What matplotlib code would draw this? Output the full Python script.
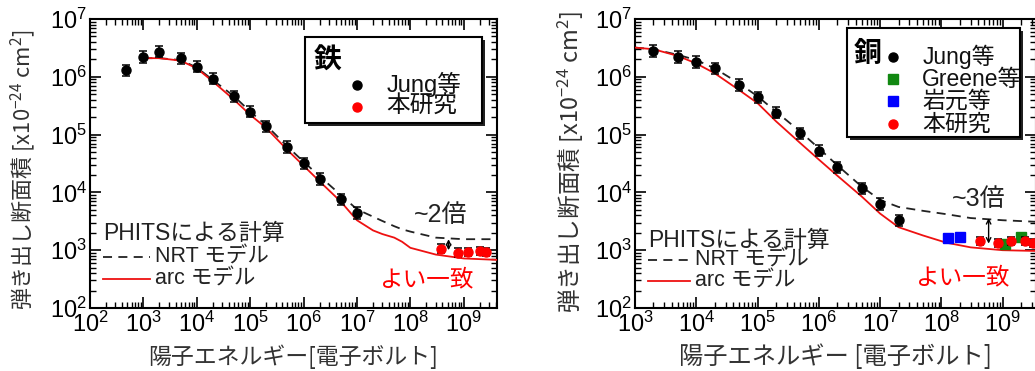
import numpy as np
import matplotlib
matplotlib.use('Agg')
import matplotlib.pyplot as plt
from matplotlib.patches import Rectangle
from matplotlib.ticker import LogLocator, FuncFormatter, NullFormatter

plt.rcParams['font.family'] = ['Liberation Sans', 'Noto Sans CJK JP']
plt.rcParams['mathtext.default'] = 'regular'

# ---------------- data : iron (鉄) ----------------
fe_curve_E = [1e3, 2e3, 5e3, 1e4, 2e4, 5e4, 1e5, 2e5, 5e5, 1e6, 2e6, 5e6, 1e7,
              2e7, 3e7, 5e7, 7e7, 1e8, 3e8, 1e9, 4.2e9]
fe_arc = [2.1e6, 2.1e6, 1.9e6, 1.4e6, 8.3e5, 4.0e5, 2.2e5, 1.3e5, 5.4e4, 2.9e4,
          1.55e4, 6.9e3, 3.3e3, 2.2e3, 1.9e3, 1.65e3, 1.4e3, 1.1e3, 8.4e2, 7.2e2, 6.8e2]
fe_nrt = [2.1e6, 2.1e6, 1.95e6, 1.45e6, 8.8e5, 4.6e5, 2.5e5, 1.45e5, 6.2e4, 3.4e4,
          1.9e4, 9.0e3, 5.1e3, 3.8e3, 3.2e3, 2.6e3, 2.3e3, 2.1e3, 1.65e3, 1.55e3, 1.55e3]
fe_jung_E = [4.8e2, 1e3, 2e3, 5e3, 1e4, 2e4, 5e4, 1e5, 2e5, 5e5, 1e6, 2e6, 5e6, 1e7]
fe_jung_s = [1.3e6, 2.2e6, 2.7e6, 2.1e6, 1.5e6, 9.2e5, 4.6e5, 2.5e5, 1.4e5, 6.1e4,
             3.2e4, 1.7e4, 7.6e3, 4.4e3]
fe_this_E = [3.8e8, 7.8e8, 1.2e9, 2.0e9, 2.6e9]
fe_this_s = [1.07e3, 9.1e2, 9.3e2, 9.7e2, 9.3e2]
fe_arrow_E = 5.2e8
fe_arrow_s = (1.55e3, 1.0e3)

# ---------------- data : copper (銅) ----------------
cu_curve_E = [1e3, 2e3, 5e3, 1e4, 2e4, 5e4, 1e5, 2e5, 5e5, 1e6, 2e6, 5e6, 1e7,
              2e7, 5e7, 1.2e8, 3e8, 1e9, 3.5e9]
cu_arc = [3.2e6, 3.0e6, 2.3e6, 1.7e6, 1.15e6, 5.9e5, 3.5e5, 1.7e5, 7.1e4, 3.7e4,
          1.95e4, 8.5e3, 4.3e3, 2.5e3, 1.8e3, 1.35e3, 1.12e3, 1.0e3, 9.7e2]
cu_nrt = [3.2e6, 3.0e6, 2.4e6, 1.95e6, 1.4e6, 7.7e5, 4.6e5, 2.5e5, 1.12e5, 5.8e4,
          2.95e4, 1.26e4, 7.4e3, 5.6e3, 4.8e3, 4.2e3, 3.6e3, 3.3e3, 3.1e3]
cu_jung_E = [2e3, 5e3, 1e4, 2e4, 5e4, 1e5, 2e5, 5e5, 1e6, 2e6, 5e6, 1e7, 2e7]
cu_jung_s = [2.8e6, 2.2e6, 1.8e6, 1.4e6, 7.2e5, 4.4e5, 2.4e5, 1.05e5, 5.3e4, 2.7e4,
             1.17e4, 6.3e3, 3.3e3]
cu_greene_E = [1.1e9, 2.0e9]
cu_greene_s = [1.3e3, 1.7e3]
cu_iwamoto_E = [1.3e8, 2.0e8]
cu_iwamoto_s = [1.6e3, 1.7e3]
cu_this_E = [4.2e8, 8.5e8, 1.35e9, 2.3e9, 3.1e9]
cu_this_s = [1.46e3, 1.33e3, 1.44e3, 1.44e3, 1.33e3]
cu_arrow_E = 5.9e8
cu_arrow_s = (3.6e3, 1.3e3)

jung_err = 1.25
this_err = 1.18

W, H = 1035, 371
fig = plt.figure(figsize=(W / 100, H / 100), dpi=100)


def add_axes(left, right, top, bottom):
    return fig.add_axes([left / W, 1 - bottom / H, (right - left) / W, (bottom - top) / H])


def yerr(s, f):
    s = np.asarray(s)
    return [s - s / f, s * f - s]


def fmt(v, p):
    return r'$10^{%d}$' % int(round(np.log10(v)))


def style_axes(ax, xlim):
    ax.set_xscale('log')
    ax.set_yscale('log')
    ax.set_xlim(*xlim)
    ax.set_ylim(1e2, 1e7)
    for ax_ in (ax.xaxis, ax.yaxis):
        ax_.set_major_locator(LogLocator(base=10, numticks=20))
        ax_.set_minor_locator(LogLocator(base=10, subs=np.arange(2, 10), numticks=20))
        ax_.set_major_formatter(FuncFormatter(fmt))
        ax_.set_minor_formatter(NullFormatter())
    ax.tick_params(which='both', direction='in', top=True, right=True)
    ax.tick_params(which='major', length=8, width=1.2, labelsize=17)
    ax.tick_params(which='minor', length=4, width=1.0)
    ax.tick_params(axis='x', pad=3)
    ax.tick_params(axis='y', pad=2)
    for s in ax.spines.values():
        s.set_linewidth(1.5)


cjk = ['Noto Sans CJK JP']
mixed = ['Liberation Sans', 'Noto Sans CJK JP']


def legend_box(ax, x0, x1, y0, y1, axw, axh):
    dx, dy = 3 / axw, 3 / axh
    ax.add_patch(Rectangle((x0 + dx, y0 - dy), x1 - x0, y1 - y0, transform=ax.transAxes,
                           facecolor='#222222', edgecolor='none', zorder=6, clip_on=False))
    ax.add_patch(Rectangle((x0, y0), x1 - x0, y1 - y0, transform=ax.transAxes,
                           facecolor='white', edgecolor='black', lw=1.5, zorder=7, clip_on=False))


def model_key(ax, x_txt, y_head, y_nrt, y_arc, x_line0, x_line1, x_lab):
    ax.text(x_txt, y_head, 'PHITSによる計算', transform=ax.transAxes, fontsize=16.5,
            family=mixed, color='#222222', va='center', ha='left')
    ax.plot([x_line0, x_line1], [y_nrt, y_nrt], transform=ax.transAxes, color='#222222',
            lw=1.3, ls=(0, (5, 3.5)))
    ax.text(x_lab, y_nrt, 'NRT モデル', transform=ax.transAxes, fontsize=15.5,
            family=mixed, color='#222222', va='center', ha='left')
    ax.plot([x_line0, x_line1], [y_arc, y_arc], transform=ax.transAxes, color='#ee1111', lw=1.3)
    ax.text(x_lab, y_arc, 'arc モデル', transform=ax.transAxes, fontsize=15.5,
            family=mixed, color='#222222', va='center', ha='left')


# ================= left : Fe =================
ax1 = add_axes(90, 497, 19, 308)
style_axes(ax1, (1e2, 4.2e9))
ax1.plot(fe_curve_E, fe_nrt, color='#222222', lw=1.3, ls=(0, (5, 3.5)), zorder=2)
ax1.plot(fe_curve_E, fe_arc, color='#ee1111', lw=1.3, zorder=3)
ax1.errorbar(fe_jung_E, fe_jung_s, yerr=yerr(fe_jung_s, jung_err), fmt='o', color='black',
             ms=6.5, elinewidth=1.1, capsize=3, capthick=1.1, zorder=4)
ax1.errorbar(fe_this_E, fe_this_s, yerr=yerr(fe_this_s, this_err), fmt='o', mfc='#ff0000',
             mec='#ff0000', ecolor='black', ms=6.5, elinewidth=1.1, capsize=3, capthick=1.1, zorder=4)
ax1.annotate('', xy=(fe_arrow_E, fe_arrow_s[1]), xytext=(fe_arrow_E, fe_arrow_s[0]),
             arrowprops=dict(arrowstyle='<->', lw=1.0, color='black', shrinkA=0, shrinkB=0,
                             mutation_scale=8), zorder=5)
ax1.text(0.862, 0.322, '~2倍', transform=ax1.transAxes, fontsize=18, family=mixed,
         color='#222222', ha='center', va='center')
ax1.text(0.825, 0.097, 'よい一致', transform=ax1.transAxes, fontsize=17, family=cjk,
         color='#ff0000', ha='center', va='center')
model_key(ax1, 0.032, 0.258, 0.178, 0.099, 0.032, 0.147, 0.160)

legend_box(ax1, 0.528, 0.962, 0.639, 0.939, 407, 289)
ax1.text(0.584, 0.855, '鉄', transform=ax1.transAxes, fontsize=20, family=cjk,
         weight='bold', ha='center', va='center', zorder=8)
ax1.plot([0.655], [0.772], 'o', color='black', ms=6.5, transform=ax1.transAxes, zorder=8, clip_on=False)
ax1.plot([0.655], [0.695], 'o', color='#ff0000', ms=6.5, transform=ax1.transAxes, zorder=8, clip_on=False)
ax1.text(0.729, 0.772, 'Jung等', transform=ax1.transAxes, fontsize=17, family=mixed,
         ha='left', va='center', zorder=8, color='#111111')
ax1.text(0.729, 0.695, '本研究', transform=ax1.transAxes, fontsize=17, family=mixed,
         ha='left', va='center', zorder=8, color='#111111')

ax1.set_xlabel('陽子エネルギー[電子ボルト]', fontsize=16.5, family=cjk, color='#333333')
ax1.set_ylabel(r'弾き出し断面積 [x10$^{-24}$ cm$^{2}$]', fontsize=15.8, family=cjk, color='#333333')
ax1.xaxis.set_label_coords(0.5, -0.125)
ax1.yaxis.set_label_coords(-0.128, 0.478)

# ================= right : Cu =================
ax2 = add_axes(635, 1036, 19, 308)
style_axes(ax2, (1e3, 3.5e9))
ax2.plot(cu_curve_E, cu_nrt, color='#222222', lw=1.3, ls=(0, (5, 3.5)), zorder=2)
ax2.plot(cu_curve_E, cu_arc, color='#ee1111', lw=1.3, zorder=3)
ax2.errorbar(cu_jung_E, cu_jung_s, yerr=yerr(cu_jung_s, jung_err), fmt='o', color='black',
             ms=6.5, elinewidth=1.1, capsize=3, capthick=1.1, zorder=4)
ax2.errorbar(cu_iwamoto_E, cu_iwamoto_s, yerr=yerr(cu_iwamoto_s, 1.1), fmt='s', mfc='#0000ff',
             mec='#0000ff', ecolor='#0000ff', ms=6.5, elinewidth=1.1, capsize=3, capthick=1.1, zorder=4)
ax2.errorbar(cu_greene_E, cu_greene_s, yerr=yerr(cu_greene_s, 1.1), fmt='s', mfc='#118811',
             mec='#118811', ecolor='black', ms=6.5, elinewidth=1.1, capsize=3, capthick=1.1, zorder=4)
ax2.errorbar(cu_this_E, cu_this_s, yerr=yerr(cu_this_s, this_err), fmt='o', mfc='#ff0000',
             mec='#ff0000', ecolor='black', ms=6.5, elinewidth=1.1, capsize=3, capthick=1.1, zorder=5)
ax2.annotate('', xy=(cu_arrow_E, cu_arrow_s[1]), xytext=(cu_arrow_E, cu_arrow_s[0]),
             arrowprops=dict(arrowstyle='<->', lw=1.0, color='black', shrinkA=0, shrinkB=0,
                             mutation_scale=8), zorder=5)
ax2.text(0.858, 0.376, '~3倍', transform=ax2.transAxes, fontsize=18, family=mixed,
         color='#222222', ha='center', va='center')
ax2.text(0.817, 0.104, 'よい一致', transform=ax2.transAxes, fontsize=17, family=cjk,
         color='#ff0000', ha='center', va='center')
model_key(ax2, 0.033, 0.235, 0.166, 0.093, 0.033, 0.137, 0.150)

legend_box(ax2, 0.529, 0.960, 0.593, 0.968, 401, 289)
ax2.text(0.581, 0.880, '銅', transform=ax2.transAxes, fontsize=20, family=cjk,
         weight='bold', ha='center', va='center', zorder=8)
rows = [(0.869, 'o', 'black', 'Jung等'), (0.792, 's', '#118811', 'Greene等'),
        (0.716, 's', '#0000ff', '岩元等'), (0.637, 'o', '#ff0000', '本研究')]
for yy, mk, cc, lab in rows:
    ax2.plot([0.643], [yy], mk, color=cc, ms=6.5, transform=ax2.transAxes, zorder=8, clip_on=False)
    ax2.text(0.716, yy, lab, transform=ax2.transAxes, fontsize=16.5, family=mixed,
             ha='left', va='center', zorder=8, color='#111111')

ax2.set_xlabel('陽子エネルギー [電子ボルト]', fontsize=17.5, family=cjk, color='#333333')
ax2.set_ylabel(r'弾き出し断面積 [x10$^{-24}$ cm$^{2}$]', fontsize=17, family=cjk, color='#333333')
ax2.xaxis.set_label_coords(0.5, -0.125)
ax2.yaxis.set_label_coords(-0.122, 0.505)

fig.savefig('out.png', dpi=100)
